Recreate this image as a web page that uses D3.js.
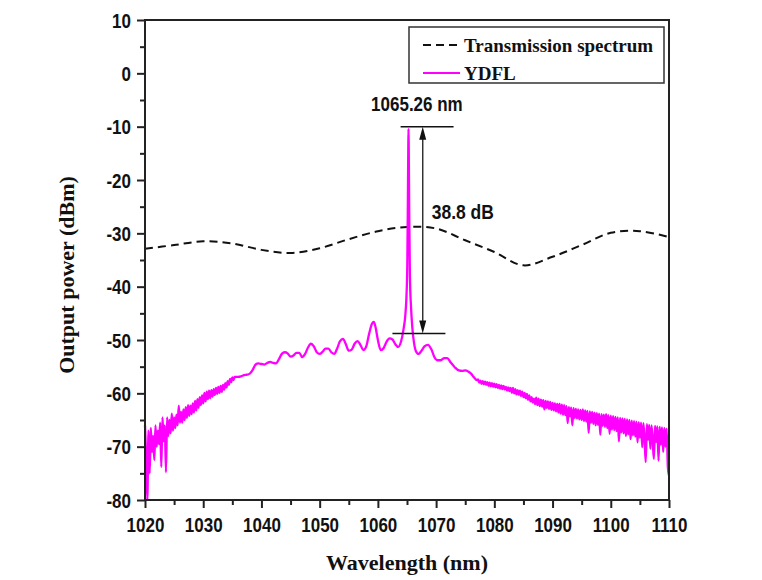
<!DOCTYPE html>
<html>
<head>
<meta charset="utf-8">
<script src="https://cdn.jsdelivr.net/npm/d3@7"></script>
<style>
  body { margin: 0; background: #fff; }
  .tick-label { font-family: "Liberation Sans", Arial, sans-serif; font-weight: bold; fill: #111; }
  .serif { font-family: "Liberation Serif", "Times New Roman", serif; font-weight: bold; fill: #111; }
</style>
</head>
<body>
<div id="wrapper"></div>
<script>
// axis ticks
const xTicks = [1020, 1030, 1040, 1050, 1060, 1070, 1080, 1090, 1100, 1110]
const xMinorTicks = [1025, 1035, 1045, 1055, 1065, 1075, 1085, 1095, 1105]
const yTicks = [10, 0, -10, -20, -30, -40, -50, -60, -70, -80]
const yMinorTicks = [5, -5, -15, -25, -35, -45, -55, -65, -75]

// transmission spectrum of the filter (nm, dBm)
const transmission = [
  [1020, -32.9], [1025, -32.2], [1030, -31.5], [1035, -31.9], [1040, -33.1],
  [1045, -33.7], [1050, -32.8], [1055, -31.1], [1060, -29.6], [1065, -28.8],
  [1070, -29.1], [1075, -31.3], [1080, -33.5], [1085, -36.0], [1090, -34.4],
  [1095, -32.2], [1100, -29.9], [1105, -29.6], [1110, -30.7],
]

// YDFL output, short-wavelength noisy part: 1020.0 nm, every 0.2 nm
const ydflBlueStart = 1020
const ydflBlueStep = 0.2
const ydflBlue = [
  -66, -72, -80, -67, -75, -66.5, -71, -68, -72.5, -66,
  -70, -67, -69.5, -65.5, -73.8, -64.5, -69, -66, -74.8, -64.5,
  -68, -65, -67.5, -63.8, -67, -64.5, -66.5, -64, -66, -62.3,
  -65.5, -63.5, -65.5, -63, -65, -62.6, -64.6, -62.2, -64.2, -62.3,
  -63.9, -61.9, -63.6, -61.4, -63.2, -61.1, -62.7, -60.7, -62.2, -60.4,
  -61.9, -59.9, -61.5, -59.7, -61.1, -59.5, -60.9, -59.4, -60.6, -59.2,
  -60.3, -59.0, -60.1, -58.8, -59.9, -58.6, -59.7, -58.4, -59.3, -58.1,
  -58.9, -57.7, -58.4, -57.3, -57.9, -57.0, -57.5, -56.9,
]

// YDFL output around the lasing line (nm, dBm)
const ydflCore = [
  [1036.0, -56.9], [1036.5, -56.8], [1037.0, -56.6], [1037.5, -56.5], [1038.0, -56.3],
  [1038.5, -55.6], [1039.0, -54.6], [1039.5, -54.4], [1040.0, -54.5], [1040.5, -54.6],
  [1041.0, -54.3], [1041.5, -54.1], [1042.0, -54.3], [1042.5, -54.4], [1043.0, -53.6],
  [1043.5, -52.6], [1044.0, -52.3], [1044.5, -52.5], [1045.0, -53.1], [1045.5, -52.9],
  [1046.0, -52.4], [1046.5, -52.4], [1047.0, -53.2], [1047.5, -52.6], [1048.0, -51.4],
  [1048.5, -50.7], [1049.0, -51.2], [1049.5, -52.3], [1050.0, -52.6], [1050.5, -52.2],
  [1051.0, -51.6], [1051.5, -51.6], [1052.0, -52.3], [1052.5, -52.6], [1053.0, -51.6],
  [1053.5, -50.2], [1054.0, -49.8], [1054.5, -50.8], [1055.0, -52.0], [1055.5, -51.8],
  [1056.0, -50.7], [1056.5, -50.2], [1057.0, -50.9], [1057.5, -51.9], [1058.0, -51.2],
  [1058.5, -48.8], [1059.0, -46.9], [1059.3, -46.6], [1059.6, -47.6], [1060.0, -50.0],
  [1060.5, -51.9], [1061.0, -51.5], [1061.5, -50.3], [1062.0, -49.7], [1062.5, -49.9],
  [1063.0, -50.8], [1063.5, -51.3], [1064.0, -50.2], [1064.4, -48.0], [1064.7, -45.5],
  [1064.9, -42.0], [1065.05, -36], [1065.15, -24], [1065.22, -14], [1065.26, -10.4],
  [1065.3, -14], [1065.38, -26], [1065.5, -38], [1065.7, -44], [1065.9, -47.5],
  [1066.2, -50.5], [1066.5, -52.0], [1067.0, -52.6], [1067.5, -52.0], [1068.0, -51.2],
  [1068.6, -50.9], [1069.2, -51.8], [1069.7, -53.2], [1070.2, -53.8], [1070.8, -53.8],
  [1071.4, -53.4], [1071.9, -53.4], [1072.5, -54.2], [1073.2, -55.1], [1073.9, -55.7],
  [1074.5, -55.8], [1075.0, -55.7], [1075.5, -55.9], [1076.0, -56.3], [1076.5, -57.0],
  [1077.0, -57.5],
]

// YDFL output, long-wavelength noisy part: 1077.2 nm, every 0.2 nm
const ydflRedStart = 1077.2
const ydflRedStep = 0.2
const ydflRed = [
  -57.4, -58.0, -57.6, -58.2, -57.7, -58.3, -57.8, -58.4, -57.9,
  -58.6, -58.0, -58.7, -58.1, -58.8, -58.2, -58.9, -58.3, -59.0, -58.4,
  -59.1, -58.5, -59.2, -58.6, -59.3, -58.8, -59.5, -58.9, -59.6, -59.0,
  -59.9, -59.0, -60.0, -59.2, -60.2, -59.4, -60.3, -59.5, -60.5, -59.7,
  -60.7, -59.9, -60.9, -60.1, -61.2, -60.4, -61.5, -60.7, -61.7, -61.0,
  -62.0, -60.8, -62.2, -61.0, -62.4, -61.2, -62.5, -61.3, -63.0, -61.4,
  -62.7, -61.5, -62.9, -61.6, -63.1, -61.8, -63.2, -61.9, -63.4, -62.0,
  -63.6, -62.0, -63.8, -62.1, -64.0, -62.2, -64.1, -62.4, -65.6, -62.6,
  -64.3, -62.7, -66.0, -62.8, -64.6, -62.9, -64.7, -63.0, -64.9, -63.1,
  -65.0, -63.0, -65.2, -63.2, -65.3, -63.3, -67.4, -63.4, -65.5, -63.5,
  -65.7, -63.6, -66.0, -63.7, -65.9, -63.8, -67.8, -63.9, -66.1, -64.0,
  -66.3, -63.9, -66.5, -64.1, -67.6, -64.2, -66.8, -64.3, -66.9, -64.4,
  -67.1, -64.5, -69.0, -64.6, -67.3, -64.7, -67.5, -64.8, -68.0, -64.9,
  -67.7, -65.0, -68.6, -65.1, -67.9, -65.2, -68.1, -65.3, -69.2, -65.4,
  -68.3, -65.5, -70.1, -65.6, -68.5, -72.9, -65.8, -68.7, -65.9, -70.4,
  -66.0, -68.9, -72.3, -66.1, -69.1, -66.2, -72.6, -66.3, -69.6, -66.4,
  -71.0, -66.5, -70.0, -66.6, -73.8, -75.4,
]

// annotation
const peakLabel = "1065.26 nm"
const gapLabel = "38.8 dB"
const peakTopDbm = -10
const peakFloorDbm = -48.8
const legendLabels = ["Transmission spectrum", "YDFL"]

function drawSpectrum() {

  // 1. Assemble data
  const ydfl = [
    ...ydflBlue.map((v, i) => [ydflBlueStart + i * ydflBlueStep, v]),
    ...ydflCore,
    ...ydflRed.map((v, i) => [ydflRedStart + i * ydflRedStep, v]),
  ]
  const xAccessor = d => d[0]
  const yAccessor = d => d[1]

  // 2. Dimensions
  let dimensions = {
    width: 762,
    height: 580,
    margin: { top: 20, right: 93, bottom: 80, left: 145 },
  }
  dimensions.boundedWidth = dimensions.width - dimensions.margin.left - dimensions.margin.right
  dimensions.boundedHeight = dimensions.height - dimensions.margin.top - dimensions.margin.bottom

  // 3. Canvas
  const wrapper = d3.select("#wrapper")
    .append("svg")
      .attr("width", dimensions.width)
      .attr("height", dimensions.height)
      .style("background", "#fff")

  const bounds = wrapper.append("g")
      .attr("transform", `translate(${dimensions.margin.left},${dimensions.margin.top})`)

  // 4. Scales
  const xScale = d3.scaleLinear()
    .domain([1020, 1110])
    .range([0, dimensions.boundedWidth])

  const yScale = d3.scaleLinear()
    .domain([-80, 10])
    .range([dimensions.boundedHeight, 0])

  // 5. Data
  const transmissionLine = d3.line()
    .x(d => xScale(xAccessor(d)))
    .y(d => yScale(yAccessor(d)))
    .curve(d3.curveCatmullRom.alpha(0.5))

  bounds.append("path")
      .attr("d", transmissionLine(transmission))
      .attr("fill", "none")
      .attr("stroke", "#111")
      .attr("stroke-width", 2)
      .attr("stroke-dasharray", "8,5")

  const ydflLine = d3.line()
    .x(d => xScale(xAccessor(d)))
    .y(d => yScale(yAccessor(d)))
    .curve(d3.curveMonotoneX)

  bounds.append("path")
      .attr("d", ydflLine(ydfl))
      .attr("fill", "none")
      .attr("stroke", "#ff00ff")
      .attr("stroke-width", 2.3)
      .attr("stroke-linejoin", "round")

  // 6. Peripherals
  const stretch = "scale(1,1.2)"
  const plainNumber = d => String(d)   // hyphen minus, as in the original figure

  const xAxis = bounds.append("g")
      .attr("transform", `translate(0,${dimensions.boundedHeight})`)
      .call(d3.axisBottom(xScale).tickValues(xTicks).tickSize(8).tickFormat(plainNumber))
  xAxis.append("g")
      .call(d3.axisBottom(xScale).tickValues(xMinorTicks).tickSize(5).tickFormat(""))
  xAxis.selectAll(".domain").remove()
  xAxis.selectAll("line").attr("stroke", "#222").attr("stroke-width", 2)
  xAxis.selectAll("text")
      .attr("class", "tick-label")
      .attr("y", null)
      .attr("dy", null)
      .attr("transform", `translate(0,31.5) ${stretch}`)
      .style("font-size", "17px")

  const yAxis = bounds.append("g")
      .call(d3.axisLeft(yScale).tickValues(yTicks).tickSize(8).tickFormat(plainNumber))
  yAxis.append("g")
      .call(d3.axisLeft(yScale).tickValues(yMinorTicks).tickSize(5).tickFormat(""))
  yAxis.selectAll(".domain").remove()
  yAxis.selectAll("line").attr("stroke", "#222").attr("stroke-width", 2)
  yAxis.selectAll("text")
      .attr("class", "tick-label")
      .attr("x", null)
      .attr("dy", null)
      .attr("transform", `translate(-14,7) ${stretch}`)
      .style("font-size", "17px")

  bounds.append("rect")
      .attr("width", dimensions.boundedWidth)
      .attr("height", dimensions.boundedHeight)
      .attr("fill", "none")
      .attr("stroke", "#222")
      .attr("stroke-width", 2)

  wrapper.append("text")
      .attr("class", "serif")
      .attr("x", dimensions.margin.left + dimensions.boundedWidth / 2)
      .attr("y", 570)
      .attr("text-anchor", "middle")
      .style("font-size", "22px")
      .text("Wavelength (nm)")

  wrapper.append("text")
      .attr("class", "serif")
      .attr("transform", "translate(74,275) rotate(-90)")
      .attr("text-anchor", "middle")
      .style("font-size", "22px")
      .text("Output power (dBm)")

  // annotation: peak wavelength and side-mode suppression
  const yTop = yScale(peakTopDbm)
  const yFloor = yScale(peakFloorDbm)
  const arrowX = xScale(1067.7)

  bounds.append("line")
      .attr("x1", xScale(1063.9)).attr("x2", xScale(1073.0))
      .attr("y1", yTop).attr("y2", yTop)
      .attr("stroke", "#111").attr("stroke-width", 1.5)
  bounds.append("line")
      .attr("x1", xScale(1062.5)).attr("x2", xScale(1071.6))
      .attr("y1", yFloor).attr("y2", yFloor)
      .attr("stroke", "#111").attr("stroke-width", 1.5)
  bounds.append("line")
      .attr("x1", arrowX).attr("x2", arrowX)
      .attr("y1", yTop + 10).attr("y2", yFloor - 10)
      .attr("stroke", "#333").attr("stroke-width", 1.5)
  bounds.append("path")
      .attr("d", `M${arrowX},${yTop} l-3.5,13 h7 z M${arrowX},${yFloor} l-3.5,-13 h7 z`)
      .attr("fill", "#111")

  bounds.append("text")
      .attr("class", "tick-label")
      .attr("transform", `translate(${xScale(1066.7)},${yTop - 16}) ${stretch}`)
      .attr("text-anchor", "middle")
      .style("font-size", "17px")
      .text(peakLabel)

  bounds.append("text")
      .attr("class", "tick-label")
      .attr("transform", `translate(${arrowX + 9},${yScale(-27.3)}) ${stretch}`)
      .style("font-size", "17.5px")
      .text(gapLabel)

  // legend
  const legend = bounds.append("g")
      .attr("transform", "translate(264,7)")

  legend.append("rect")
      .attr("width", 255)
      .attr("height", 56)
      .attr("fill", "#fff")
      .attr("stroke", "#333")
      .attr("stroke-width", 1.5)

  const legendRows = legend.selectAll(".legend-row")
    .data(legendLabels)
    .enter().append("g")
      .attr("class", "legend-row")
      .attr("transform", (d, i) => `translate(0,${18 + i * 28})`)

  legendRows.append("line")
      .attr("x1", 14).attr("x2", 51)
      .attr("stroke", (d, i) => i === 0 ? "#111" : "#ff00ff")
      .attr("stroke-width", 2)
      .attr("stroke-dasharray", (d, i) => i === 0 ? "8,5" : null)

  legendRows.append("text")
      .attr("class", "serif")
      .attr("x", 55)
      .attr("y", 6.5)
      .style("font-size", "19px")
      .text(d => d)
}
drawSpectrum()
</script>
</body>
</html>
